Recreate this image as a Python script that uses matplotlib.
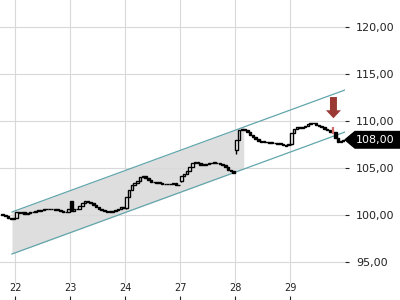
import numpy as np
import matplotlib
matplotlib.use("Agg")
import matplotlib.pyplot as plt
from matplotlib.patches import FancyArrow, Polygon

# trading days shown on the x axis
days = ["22", "23", "24", "27", "28", "29"]
bars_per_day = 20

# closes of the last bars of the session before the 22nd
pre_close = [100.05, 99.85, 99.68, 99.62, 99.72]

closes = [
    # 22
    [100.32, 100.25, 100.27, 100.14, 100.21, 100.29, 100.37, 100.46, 100.46, 100.53,
     100.61, 100.69, 100.67, 100.64, 100.61, 100.53, 100.46, 100.29, 100.37, 100.59],
    # 23
    [100.45, 100.59, 100.66, 100.96, 101.24, 101.52, 101.41, 101.28, 101.09, 100.90,
     100.69, 100.53, 100.39, 100.35, 100.35, 100.40, 100.48, 100.61, 100.80, 100.78],
    # 24
    [101.95, 102.66, 103.14, 103.37, 103.65, 103.99, 104.12, 103.94, 103.72, 103.54,
     103.51, 103.48, 103.40, 103.35, 103.27, 103.27, 103.30, 103.40, 103.24, 103.19],
    # 27
    [104.15, 104.36, 104.68, 105.11, 105.53, 105.67, 105.53, 105.32, 105.32, 105.39,
     105.48, 105.53, 105.56, 105.53, 105.43, 105.29, 105.11, 104.84, 104.65, 104.52],
    # 28
    [108.00, 109.04, 109.20, 108.99, 108.78, 108.56, 108.35, 108.09, 107.87, 107.80,
     107.80, 107.74, 107.69, 107.69, 107.66, 107.61, 107.52, 107.47, 107.45, 107.50],
    # 29
    [108.75, 109.12, 109.31, 109.29, 109.36, 109.47, 109.63, 109.84, 109.79, 109.57,
     109.44, 109.31, 109.18, 109.04, 108.88, 108.80, 108.22, 107.77, 107.87, 108.00],
]
# opening price and wick low of the first bar of each day
day_open = [99.72, 101.50, 100.78, 103.60, 106.90, 107.50]
day_low = [99.70, 100.40, 100.60, 103.55, 106.45, 107.45]

# trend channel
chan_x = [-0.055, 6.0]
chan_up = [100.32, 113.30]
chan_lo = [95.85, 108.83]
shade_end = 4.16

last_price = 108.00
signal_x = 5.775
signal_lo, signal_hi = 108.65, 109.40
arrow_x, arrow_top, arrow_bottom = 5.79, 112.55, 110.29

grid_c = "#d9d9d9"
teal = "#62a6ac"

fig = plt.figure(figsize=(4, 3), dpi=100)
ax = fig.add_axes([0, 0, 345 / 400, 1])
ax.set_xlim(-15 / 55, 330 / 55)
ax.set_ylim(90.957, 122.872)
for s in ax.spines.values():
    s.set_visible(False)

# grid
ax.set_yticks([95, 100, 105, 110, 115, 120])
ax.set_yticklabels([f"{v:.2f}".replace(".", ",") for v in ax.get_yticks()])
ax.yaxis.tick_right()
ax.grid(axis="y", color=grid_c, lw=0.8, zorder=0)
for t in range(len(days)):
    ax.axvline(t, ymin=0.06, color=grid_c, lw=0.8, zorder=0)
ax.set_xticks(range(len(days)))
ax.set_xticklabels(days)
ax.tick_params(axis="y", length=3, width=0.8, pad=5, labelsize=8, colors="#222222")
ax.tick_params(axis="x", direction="in", length=3, width=0.8, pad=-12.5, labelsize=7,
               colors="#222222")

# channel + shaded part
sx = np.array([chan_x[0], shade_end])
ax.fill_between(sx, np.interp(sx, chan_x, chan_lo), np.interp(sx, chan_x, chan_up),
                color="#dedede", lw=0, zorder=1)
ax.plot(chan_x, chan_up, color=teal, lw=0.9, zorder=2)
ax.plot(chan_x, chan_lo, color=teal, lw=0.9, zorder=2)

# candles
xs, op, cl, lo = [], [], [], []
prev = None
for k, c in enumerate(pre_close):
    xs.append(-1 + (bars_per_day - len(pre_close) + k + 0.5) / bars_per_day)
    op.append(prev if prev is not None else c)
    cl.append(c)
    lo.append(min(op[-1], c))
    prev = c
for d, day in enumerate(closes):
    for k, c in enumerate(day):
        xs.append(d + (k + 0.5) / bars_per_day)
        if k == 0:
            op.append(day_open[d])
            lo.append(day_low[d])
        else:
            op.append(prev)
            lo.append(min(prev, c))
        cl.append(c)
        prev = c
xs, op, cl, lo = map(np.array, (xs, op, cl, lo))
hi = np.maximum(op, cl)
ax.vlines(xs, np.minimum(lo, np.minimum(op, cl)), hi, color="black", lw=1.0, zorder=3)
up = cl >= op
ax.bar(xs, np.where(np.abs(cl - op) < 0.08, np.sign(cl - op + 1e-9) * 0.08, cl - op),
       bottom=op, width=0.045,
       color=np.where(up, "white", "black"), edgecolor="black", linewidth=1.0, zorder=4)

# signal marker and arrow
ax.vlines(signal_x, signal_lo, signal_hi, color="#d36b6b", lw=1.6, zorder=5)
ax.add_patch(FancyArrow(arrow_x, arrow_top, 0, arrow_bottom - arrow_top, width=0.127,
                        head_width=0.273, head_length=0.85, length_includes_head=True,
                        color="#9b3a35", lw=0, zorder=6))

# last price tag
tr = ax.get_yaxis_transform()
h = 0.88
ax.add_patch(Polygon([(1.0, last_price), (1.029, last_price + h), (1.2, last_price + h),
                      (1.2, last_price - h), (1.029, last_price - h)],
                     closed=True, transform=tr, color="black", clip_on=False, zorder=7))
ax.text(1.032, last_price, f"{last_price:.2f}".replace(".", ","), transform=tr,
        color="white", fontsize=8, ha="left", va="center", zorder=8)

fig.savefig("out.png", dpi=100)
